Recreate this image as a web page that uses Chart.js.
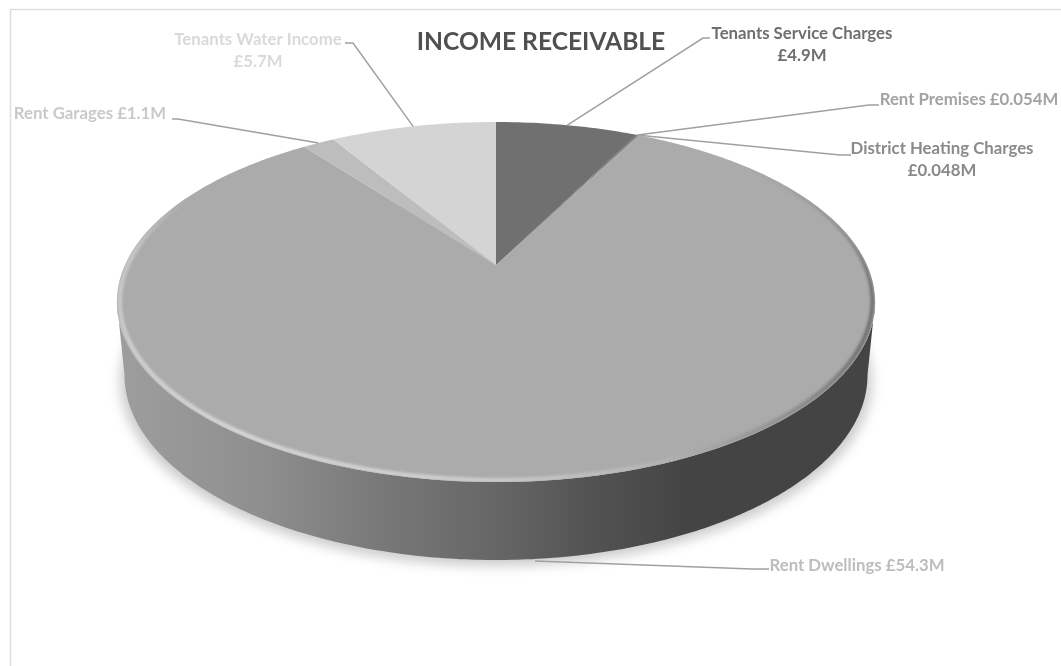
<!DOCTYPE html>
<html>
<head>
<meta charset="utf-8">
<title>Income Receivable</title>
<script src="https://cdn.jsdelivr.net/npm/chart.js@4"></script>
<style>
	html, body { margin: 0; padding: 0; background: #fff; }
	canvas { display: block; }
</style>
</head>
<body>
<canvas id="pieCanvas" width="1061" height="666"></canvas>
<script>
const chartTitle = "INCOME RECEIVABLE";
const categories = ["Tenants Service Charges", "Rent Premises", "District Heating Charges", "Rent Dwellings", "Rent Garages", "Tenants Water Income"];
const values = [4.9, 0.054, 0.048, 54.3, 1.1, 5.7];
const valueLabels = ["£4.9M", "£0.054M", "£0.048M", "£54.3M", "£1.1M", "£5.7M"];
const sliceColors = ["#707070", "#6e6e6e", "#8c8c8c", "#ababab", "#bdbdbd", "#d4d4d4"];
const labelColors = ["#6f6f6f", "#a3a3a3", "#8a8a8a", "#bdbdbd", "#c9c9c9", "#d9d9d9"];

// label block: centre x, first baseline, two lines or one, leader elbow points, anchor on lower rim or not
const labelLayout = [
	{ x: 802, y: 39, wrap: true, elbow: [[710, 38], [703, 38]] },
	{ x: 969, y: 105, wrap: false, elbow: [[879, 105], [869, 105]] },
	{ x: 942, y: 154, wrap: true, elbow: [[851, 155], [840, 155]] },
	{ x: 857, y: 571, wrap: false, elbow: [[769, 569], [752, 569]], lower: true },
	{ x: 90, y: 119, wrap: false, elbow: [[172, 119], [178, 119]] },
	{ x: 258, y: 45, wrap: true, elbow: [[345, 43], [353, 43]] }
];

// bevel tone round the rim: angle in degrees (0 right, 90 front, 180 left), grey level, stroke width
const bevelStops = [
	[-40, 171, 1], [-12, 115, 1.5], [8, 90, 2.5], [28, 110, 4], [55, 150, 4], [72, 185, 4],
	[95, 210, 4], [125, 218, 4], [165, 205, 4], [185, 198, 5], [205, 171, 4]
];

// perspective of the disc, relative to the radius the library gives the pie
const tilt = 0.2056;
const xStretch = 1.4;
const yStretch = 0.6506;
const rimDepth = 73;
const rimGrow = 5;
const lowerShrink = 0.98;

function project(arc, angle, t) {
	const u = t * Math.cos(angle);
	const v = t * Math.sin(angle);
	const w = 1 - tilt * v;
	return {
		x: arc.x + arc.outerRadius * xStretch * u / w,
		y: arc.y + arc.outerRadius * yStretch * v / w
	};
}

function lowerPoint(arc, angle) {
	const p = project(arc, angle, 1);
	const n = (p.y - arc.y) / arc.outerRadius - 0.14;	// roughly -1..1 across the ellipse
	return {
		x: arc.x + (p.x - arc.x) * lowerShrink,
		y: p.y + rimDepth + rimGrow * n / 0.68
	};
}

function discPath(ctx, pointAt) {
	ctx.beginPath();
	for (let i = 0; i <= 360; i++) {
		const p = pointAt(i * Math.PI / 180);
		if (i === 0) ctx.moveTo(p.x, p.y); else ctx.lineTo(p.x, p.y);
	}
	ctx.closePath();
}

function drawShadow(ctx, arc) {
	ctx.save();
	ctx.filter = "blur(6px)";
	ctx.fillStyle = "rgba(0,0,0,0.2)";
	discPath(ctx, function(a) {
		const p = lowerPoint(arc, a);
		return { x: arc.x + (p.x - arc.x) * 1.012, y: p.y + 6 };
	});
	ctx.fill();
	ctx.restore();
}

function drawWall(ctx, arc) {
	const left = arc.x - arc.outerRadius * xStretch * 1.03;
	const right = arc.x + arc.outerRadius * xStretch * 1.03;
	const g = ctx.createLinearGradient(left, 0, right, 0);
	g.addColorStop(0, "#9e9e9e");
	g.addColorStop(0.2, "#8e8e8e");
	g.addColorStop(0.36, "#777777");
	g.addColorStop(0.5, "#666666");
	g.addColorStop(0.63, "#525252");
	g.addColorStop(0.75, "#444444");
	g.addColorStop(1, "#444444");
	ctx.fillStyle = g;
	ctx.beginPath();
	// widest points of the rim, where the side runs straight down
	const from = Math.asin(tilt), to = Math.PI - from, steps = 240;
	for (let i = 0; i <= steps; i++) {
		const p = project(arc, from + (to - from) * i / steps, 1);
		if (i === 0) ctx.moveTo(p.x, p.y); else ctx.lineTo(p.x, p.y);
	}
	for (let i = steps; i >= 0; i--) {
		const p = lowerPoint(arc, from + (to - from) * i / steps);
		ctx.lineTo(p.x, p.y);
	}
	ctx.closePath();
	ctx.fill();
}

function drawSlice(ctx, arc, color) {
	ctx.fillStyle = color;
	ctx.beginPath();
	ctx.moveTo(arc.x, arc.y);
	const steps = Math.max(2, Math.ceil((arc.endAngle - arc.startAngle) * 180 / Math.PI));
	for (let i = 0; i <= steps; i++) {
		const p = project(arc, arc.startAngle + (arc.endAngle - arc.startAngle) * i / steps, 1);
		ctx.lineTo(p.x, p.y);
	}
	ctx.closePath();
	ctx.fill();
}

function bevelAt(deg) {
	for (let i = 1; i < bevelStops.length; i++) {
		if (deg <= bevelStops[i][0]) {
			const a = bevelStops[i - 1], b = bevelStops[i];
			const t = (deg - a[0]) / (b[0] - a[0]);
			return { grey: Math.round(a[1] + (b[1] - a[1]) * t), width: a[2] + (b[2] - a[2]) * t };
		}
	}
	return { grey: 171, width: 1 };
}

// soft bevel round the edge of the top face, drawn off screen so it blurs once
function drawBevel(ctx, arc, chart) {
	const layer = document.createElement("canvas");
	layer.width = chart.width;
	layer.height = chart.height;
	const c = layer.getContext("2d");
	const first = bevelStops[0][0], last = bevelStops[bevelStops.length - 1][0];
	c.lineCap = "round";
	for (let deg = first; deg < last; deg++) {
		const tone = bevelAt(deg + 0.5);
		const p = project(arc, deg * Math.PI / 180, 0.993);
		const q = project(arc, (deg + 1) * Math.PI / 180, 0.993);
		c.strokeStyle = "rgb(" + tone.grey + "," + tone.grey + "," + tone.grey + ")";
		c.lineWidth = tone.width;
		c.beginPath();
		c.moveTo(p.x, p.y);
		c.lineTo(q.x, q.y);
		c.stroke();
	}
	ctx.save();
	discPath(ctx, function(a) { return project(arc, a, 1); });
	ctx.clip();
	ctx.filter = "blur(1.5px)";
	ctx.drawImage(layer, 0, 0);
	ctx.restore();
}

function drawFrame(ctx, chart) {
	ctx.strokeStyle = "#dedede";
	ctx.lineWidth = 1.5;
	ctx.beginPath();
	ctx.moveTo(10.5, chart.height);
	ctx.lineTo(10.5, 9.5);
	ctx.lineTo(chart.width, 9.5);
	ctx.stroke();
}

function drawLabels(ctx, arcs) {
	ctx.textAlign = "center";
	ctx.textBaseline = "alphabetic";
	arcs.forEach(function(arc, i) {
		const item = labelLayout[i];
		const mid = (arc.startAngle + arc.endAngle) / 2;
		const anchor = item.lower ? lowerPoint(arc, mid) : project(arc, mid, 1);
		ctx.strokeStyle = "#a0a0a0";
		ctx.lineWidth = 1.5;
		ctx.beginPath();
		ctx.moveTo(item.elbow[0][0], item.elbow[0][1]);
		ctx.lineTo(item.elbow[1][0], item.elbow[1][1]);
		ctx.lineTo(anchor.x, anchor.y + (item.lower ? 2 : 0));
		ctx.stroke();

		ctx.font = "bold 16.8px Lato";
		ctx.fillStyle = labelColors[i];
		if (item.wrap) {
			ctx.fillText(categories[i], item.x, item.y);
			ctx.fillText(valueLabels[i], item.x, item.y + 21.5);
		} else {
			ctx.fillText(categories[i] + " " + valueLabels[i], item.x, item.y);
		}
	});
	ctx.font = "bold 24.6px Lato";
	ctx.fillStyle = "#505050";
	ctx.fillText(chartTitle, 541, 50);
}

const pie3d = {
	id: "pie3d",
	beforeDatasetsDraw: function(chart) {
		const ctx = chart.ctx;
		const arcs = chart.getDatasetMeta(0).data;
		ctx.save();
		drawFrame(ctx, chart);
		drawShadow(ctx, arcs[0]);
		drawWall(ctx, arcs[0]);
		arcs.forEach(function(arc, i) { drawSlice(ctx, arc, sliceColors[i]); });
		drawBevel(ctx, arcs[0], chart);
		drawLabels(ctx, arcs);
		ctx.restore();
		return false;	// the flat arcs are replaced by the projected ones
	}
};

new Chart(document.getElementById("pieCanvas").getContext("2d"), {
	type: "pie",
	data: {
		labels: categories,
		datasets: [{ data: values, backgroundColor: sliceColors, borderWidth: 0 }]
	},
	options: {
		responsive: false,
		animation: false,
		layout: { padding: { left: 0, top: 0, right: 69, bottom: 136 } },
		plugins: {
			legend: { display: false },
			tooltip: { enabled: false }
		}
	},
	plugins: [pie3d]
});
</script>
</body>
</html>
